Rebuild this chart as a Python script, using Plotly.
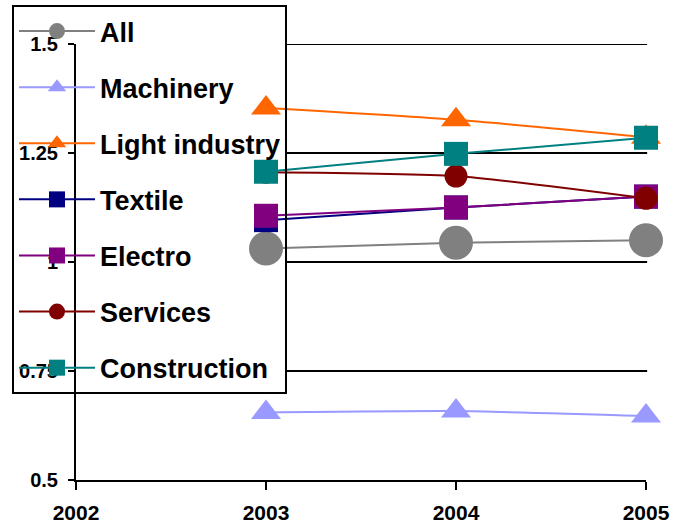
import plotly.graph_objects as go

years = [2003, 2004, 2005]
series_names = ["All", "Machinery", "Light industry", "Textile", "Electro", "Services", "Construction"]
all_vals = [1.031, 1.044, 1.050]
machinery = [0.655, 0.658, 0.647]
light_industry = [1.353, 1.326, 1.286]
textile = [1.096, 1.125, 1.150]
electro = [1.106, 1.125, 1.150]
services = [1.206, 1.197, 1.146]
construction = [1.207, 1.248, 1.285]

x_ticks = [2002, 2003, 2004, 2005]
y_ticks = [0.5, 0.75, 1.0, 1.25, 1.5]
y_ticktext = ["0.5", "0.75", "1", "1.25", "1.5"]
grid_vals = [0.75, 1.0, 1.25, 1.5]

styles = [
    ("circle", "#808080", 34),
    ("triangle-up", "#9999FF", 26),
    ("triangle-up", "#FF6600", 26),
    ("square", "#000080", 24),
    ("square", "#800080", 24),
    ("circle", "#800000", 23),
    ("square", "#008080", 24),
]
values = [all_vals, machinery, light_industry, textile, electro, services, construction]

FONT = "Liberation Sans, Arial, sans-serif"

fig = go.Figure()
for name, vals, (sym, col, sz) in zip(series_names, values, styles):
    fig.add_trace(go.Scatter(
        x=years, y=vals, name=name, legendgroup=name,
        mode="lines+markers",
        line=dict(color=col, width=2, shape="spline", smoothing=0.6),
        marker=dict(symbol=sym, color=col, size=sz),
        cliponaxis=False,
    ))

for g in grid_vals:
    fig.add_shape(type="line", xref="paper", yref="y", x0=0.370, x1=1.002, y0=g, y1=g,
                  line=dict(color="black", width=2), layer="below")

fig.update_layout(
    width=674, height=529,
    margin=dict(l=76, r=28, t=44, b=49, autoexpand=False),
    plot_bgcolor="white", paper_bgcolor="white",
    font=dict(family=FONT, color="black"),
    showlegend=True,
    legend=dict(
        x=-0.1123, y=1.0894, xanchor="left", yanchor="top",
        bgcolor="rgba(0,0,0,0)", bordercolor="black", borderwidth=2,
        font=dict(family=FONT, size=27, weight="bold", color="black"),
        itemwidth=76, tracegroupgap=18, traceorder="grouped",
        maxheight=1,
    ),
    xaxis=dict(
        range=[2002, 2005], tickvals=x_ticks, ticktext=[str(v) for v in x_ticks],
        showgrid=False, zeroline=False, showline=True, linecolor="black", linewidth=2,
        ticks="outside", ticklen=8, tickwidth=2, tickcolor="black",
        tickfont=dict(family=FONT, size=21, weight="bold"), ticklabelstandoff=5,
    ),
    yaxis=dict(
        range=[0.5, 1.5], tickvals=y_ticks, ticktext=y_ticktext,
        showgrid=False, zeroline=False, showline=True, linecolor="black", linewidth=2,
        ticks="outside", ticklen=6, tickwidth=2, tickcolor="black",
        tickfont=dict(family=FONT, size=20, weight="bold"), ticklabelstandoff=6,
    ),
)

fig.write_html("out.html")
